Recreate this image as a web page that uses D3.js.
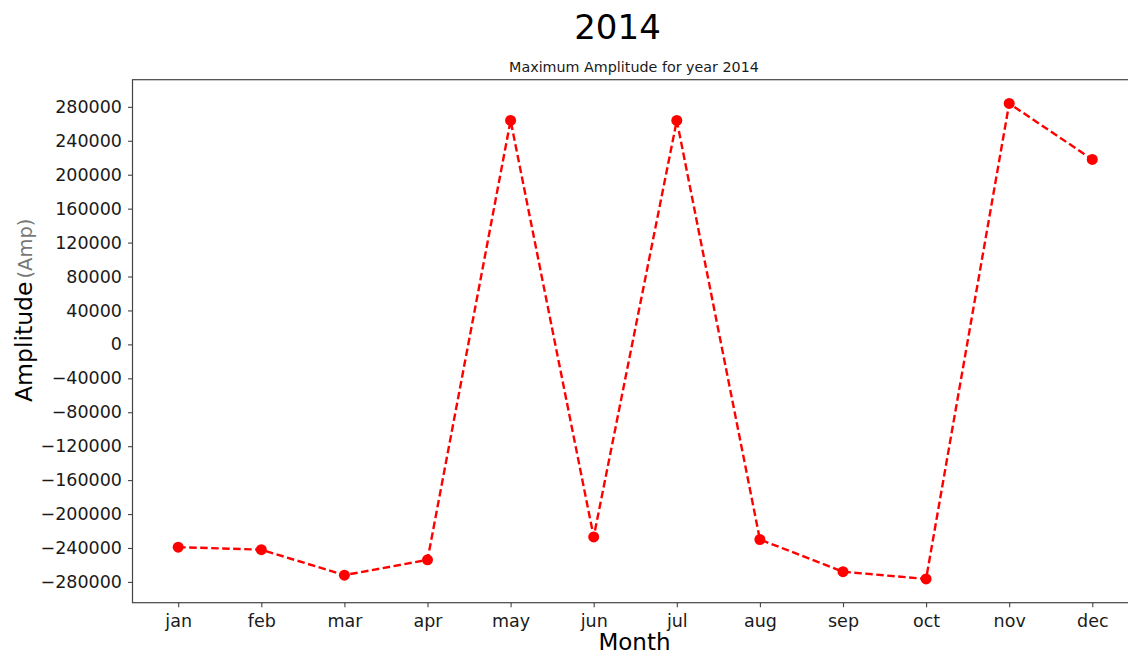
<!DOCTYPE html>
<html>
<head>
<meta charset="utf-8">
<script src="https://cdn.jsdelivr.net/npm/d3@7"></script>
<style>
  html, body { margin: 0; padding: 0; background: #fff; }
  svg { display: block; font-family: "DejaVu Sans", sans-serif; }
</style>
</head>
<body>
<svg id="chart" width="1128" height="658"></svg>
<script>
// Monthly maximum amplitude, 2014
const months = ["jan", "feb", "mar", "apr", "may", "jun", "jul", "aug", "sep", "oct", "nov", "dec"];
const amplitude = [-239000, -242000, -272000, -254000, 264000, -227000, 264000, -230000, -268000, -276500, 284000, 218000];
const yTicks = [280000, 240000, 200000, 160000, 120000, 80000, 40000, 0, -40000, -80000, -120000, -160000, -200000, -240000, -280000];

const svg = d3.select("#chart");

const plot = { left: 132.5, top: 79.7, right: 1138, bottom: 602.7 };

const x = d3.scalePoint()
  .domain(months)
  .range([plot.left, plot.right])
  .padding(0.55);

const y = d3.scaleLinear()
  .domain([-304500, 312000])
  .range([plot.bottom, plot.top]);

const fmt = v => (v < 0 ? "\u2212" : "") + Math.abs(v);

// Axes
const yAxis = svg.append("g")
  .attr("transform", `translate(${plot.left},0)`)
  .call(d3.axisLeft(y).tickValues(yTicks).tickFormat(fmt).tickSize(4.5).tickPadding(6));

const xAxis = svg.append("g")
  .attr("transform", `translate(0,${plot.bottom})`)
  .call(d3.axisBottom(x).tickSize(4.5).tickPadding(5));

[yAxis, xAxis].forEach(g => {
  g.select(".domain").remove();
  g.selectAll(".tick line").attr("stroke", "#444").attr("stroke-width", 1.1);
  g.selectAll(".tick text")
    .attr("fill", "#1a1a1a")
    .style("font-family", "'DejaVu Sans', sans-serif")
    .style("font-size", "17.5px");
});
xAxis.selectAll(".tick text").attr("dy", "0.85em");

// Frame
svg.append("rect")
  .attr("x", plot.left)
  .attr("y", plot.top)
  .attr("width", plot.right - plot.left)
  .attr("height", plot.bottom - plot.top)
  .attr("fill", "none")
  .attr("stroke", "#444")
  .attr("stroke-width", 1.2);

// Series
const line = d3.line()
  .x((d, i) => x(months[i]))
  .y(d => y(d));

svg.append("path")
  .datum(amplitude)
  .attr("d", line)
  .attr("fill", "none")
  .attr("stroke", "#ff0000")
  .attr("stroke-width", 2.4)
  .attr("stroke-dasharray", "7.5,3.5");

svg.append("g")
  .selectAll("circle")
  .data(amplitude)
  .join("circle")
  .attr("cx", (d, i) => x(months[i]))
  .attr("cy", d => y(d))
  .attr("r", 5.5)
  .attr("fill", "#ff0000");

// Titles
svg.append("text")
  .attr("x", 617.5)
  .attr("y", 38.5)
  .attr("text-anchor", "middle")
  .attr("font-size", 34)
  .attr("fill", "#000")
  .text("2014");

svg.append("text")
  .attr("x", 634)
  .attr("y", 72)
  .attr("text-anchor", "middle")
  .attr("font-size", 14.3)
  .attr("fill", "#1a1a1a")
  .text("Maximum Amplitude for year 2014");

// Axis labels
svg.append("text")
  .attr("x", 634.5)
  .attr("y", 650)
  .attr("text-anchor", "middle")
  .attr("font-size", 23)
  .attr("fill", "#000")
  .text("Month");

const yLabel = svg.append("text")
  .attr("transform", "translate(32,402) rotate(-90)")
  .attr("text-anchor", "start");
yLabel.append("tspan")
  .attr("font-size", 23.5)
  .attr("fill", "#000")
  .text("Amplitude");
yLabel.append("tspan")
  .attr("dx", 3)
  .attr("font-size", 19.5)
  .attr("fill", "#777")
  .text("(Amp)");
</script>
</body>
</html>
